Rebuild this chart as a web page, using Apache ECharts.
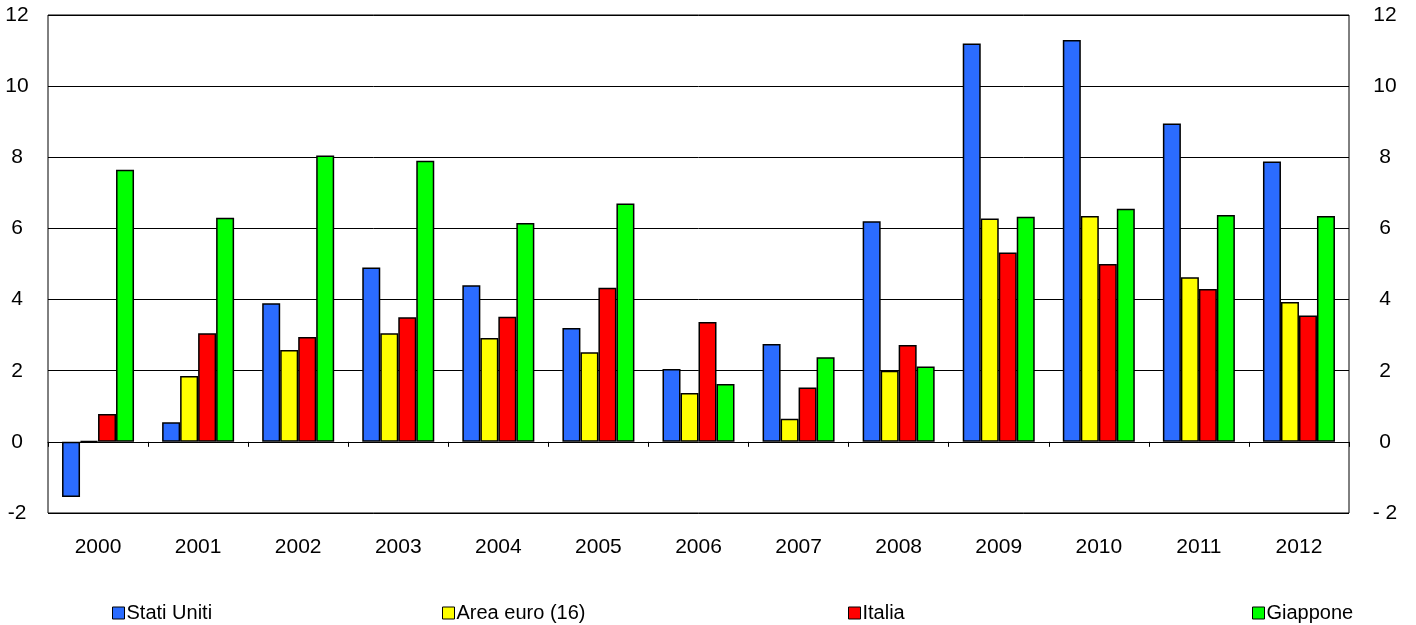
<!DOCTYPE html>
<html>
<head>
    <meta charset="utf-8">
    <title>ECharts</title>
    <script src="https://cdn.jsdelivr.net/npm/echarts@6/dist/echarts.min.js"></script>
</head>
<body style="margin:0">
    <div id="main" style="width: 1416px;height:625px;"></div>
    <script>
        var years = ['2000', '2001', '2002', '2003', '2004', '2005', '2006', '2007', '2008', '2009', '2010', '2011', '2012'];
        var statiUniti = [-1.55, 0.55, 3.9, 4.9, 4.4, 3.2, 2.05, 2.75, 6.2, 11.2, 11.3, 8.95, 7.88];
        var areaEuro = [0.02, 1.85, 2.58, 3.05, 2.92, 2.52, 1.37, 0.65, 2.0, 6.28, 6.35, 4.63, 3.93];
        var italia = [0.78, 3.05, 2.95, 3.5, 3.52, 4.33, 3.37, 1.53, 2.72, 5.32, 5.0, 4.3, 3.55];
        var giappone = [7.65, 6.3, 8.05, 7.9, 6.15, 6.7, 1.63, 2.38, 2.12, 6.33, 6.55, 6.38, 6.35];

        var names = ['Stati Uniti', 'Area euro (16)', 'Italia', 'Giappone'];
        var colors = ['#2b6cff', '#ffff00', '#ff0000', '#00ff00'];
        var values = [statiUniti, areaEuro, italia, giappone];
        var legendLeft = [107, 437, 843, 1247];

        var font = 'Liberation Sans, Arial, sans-serif';
        var myChart = echarts.init(document.getElementById('main'));

        var option = {
            animation: false,
            color: colors,
            grid: {
                left: 48, right: 67, top: 15, bottom: 112,
                show: true, borderColor: '#000', borderWidth: 1
            },
            legend: names.map(function (n, i) {
                return {
                    data: [n],
                    left: legendLeft[i],
                    top: 598,
                    icon: 'rect',
                    itemWidth: 12,
                    itemHeight: 12,
                    textStyle: { fontFamily: font, fontSize: 20, color: '#000', padding: [0, 0, 0, -3] },
                    itemStyle: { borderColor: '#000', borderWidth: 1 }
                };
            }),
            xAxis: [{
                type: 'category',
                data: years,
                position: 'bottom',
                axisLine: { show: false, onZero: false },
                axisTick: { show: false },
                axisLabel: { fontFamily: font, fontSize: 21, color: '#000', margin: 24 }
            }, {
                type: 'category',
                data: years,
                position: 'bottom',
                axisLine: { onZero: true, lineStyle: { color: '#000', width: 1 } },
                axisTick: { show: true, length: 5, lineStyle: { color: '#000' } },
                axisLabel: { show: false }
            }],
            yAxis: [{
                type: 'value',
                min: -2, max: 12, interval: 2,
                position: 'left',
                axisLine: { show: false },
                axisTick: { show: false },
                splitLine: { lineStyle: { color: '#000', width: 1 } },
                axisLabel: { fontFamily: font, fontSize: 21, color: '#000', align: 'center', margin: 31 }
            }, {
                type: 'value',
                min: -2, max: 12, interval: 2,
                position: 'right',
                axisLine: { show: false },
                axisTick: { show: false },
                splitLine: { show: false },
                axisLabel: {
                    fontFamily: font, fontSize: 21, color: '#000', align: 'center', margin: 36,
                    formatter: function (v) { return v < 0 ? '- ' + Math.abs(v) : v; }
                }
            }],
            series: names.map(function (n, i) {
                return {
                    name: n,
                    type: 'bar',
                    data: values[i],
                    barWidth: 18,
                    barGap: '0%',
                    itemStyle: { color: colors[i], borderColor: '#000', borderWidth: 1.5 }
                };
            })
        };

        myChart.setOption(option);
    </script>
</body>
</html>
